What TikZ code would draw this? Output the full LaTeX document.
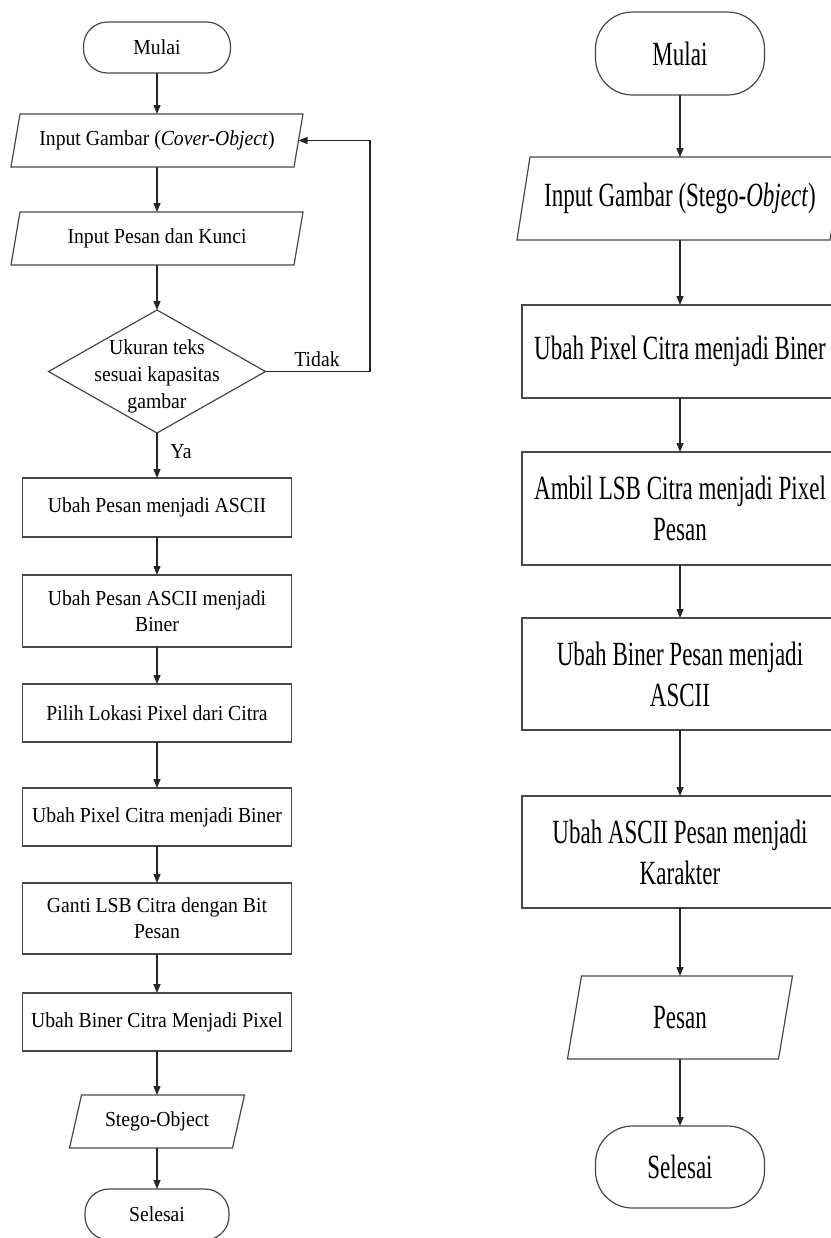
\documentclass[tikz,border=0pt]{standalone}
\usepackage{fontspec}
\setmainfont{Liberation Serif}
\newfontfamily\leftfont{Liberation Serif}[FakeStretch=0.92]
\newfontfamily\rightfont{Liberation Serif}[FakeStretch=0.68]
\usetikzlibrary{arrows.meta,shapes.geometric}
\tikzset{
  shapeline/.style={draw=black!72, line width=1.2bp},
  conn/.style={draw=black!85, line width=1.4bp, -{Triangle[length=9bp,width=7bp]}},
  lfont/.style={font=\leftfont\fontsize{21.5}{25.8}\selectfont},
  rfont/.style={font=\rightfont\fontsize{34}{41}\selectfont},
  lbox/.style={rectangle, shapeline, lfont, minimum width=269bp, inner sep=0pt, outer sep=0pt, align=center},
  rbox/.style={rectangle, shapeline, rfont, minimum width=316bp, inner sep=0pt, outer sep=0pt, align=center},
  lio/.style={rectangle, lfont, inner sep=0pt, outer sep=0pt, align=center},
  rio/.style={rectangle, rfont, inner sep=0pt, outer sep=0pt, align=center},
  lterm/.style={rectangle, shapeline, lfont, rounded corners=24bp, inner sep=0pt, outer sep=0pt},
  rterm/.style={rectangle, shapeline, rfont, rounded corners=37bp, inner sep=0pt, outer sep=0pt},
  lbl/.style={lfont, inner sep=0pt}
}
\newcommand\ioshape[2]{%
  \draw[shapeline] ([xshift=#2]#1.north west) -- ([xshift=#2]#1.north east)
    -- ([xshift=-#2]#1.south east) -- ([xshift=-#2]#1.south west) -- cycle;}
\begin{document}
\begin{tikzpicture}[x=1bp,y=-1bp]
\useasboundingbox (0,0) rectangle (831,1238);
\clip (0,0) rectangle (831,1238);
\fill[white] (0,0) rectangle (831,1238);
% ---------------- left chart ----------------
\node[lterm, minimum width=147bp, minimum height=51bp] (mulaiL) at (157,47.5) {Mulai};
\node[lio, minimum width=283bp, minimum height=53bp] (inL) at (157,140.5) {Input Gambar (\textit{Cover-Object})};
\ioshape{inL}{4.5bp}
\node[lio, minimum width=283bp, minimum height=53bp] (pesanL) at (157,238.5) {Input Pesan dan Kunci};
\ioshape{pesanL}{4.5bp}
\node[diamond, shapeline, minimum width=217bp, minimum height=123bp, inner sep=0pt, outer sep=0pt] (dec) at (157,371.5) {};
\node[align=center, font=\leftfont\fontsize{21.5}{27}\selectfont, inner sep=0pt] (dectext) at (157,376) {Ukuran teks\\sesuai kapasitas\\gambar};
\node[lbox, minimum height=59bp] (b1) at (157,507.5) {Ubah Pesan menjadi ASCII};
\node[lbox, minimum height=72bp] (b2) at (157,611) {Ubah Pesan ASCII menjadi\\Biner};
\node[lbox, minimum height=58bp] (b3) at (157,713) {Pilih Lokasi Pixel dari Citra};
\node[lbox, minimum height=58bp] (b4) at (157,817) {Ubah Pixel Citra menjadi Biner};
\node[lbox, minimum height=71bp] (b5) at (157,918.5) {Ganti LSB Citra dengan Bit\\Pesan};
\node[lbox, minimum height=58bp] (b6) at (157,1022) {Ubah Biner Citra Menjadi Pixel};
\node[lio, minimum width=163bp, minimum height=53bp] (stegoL) at (157,1121.5) {Stego-Object};
\ioshape{stegoL}{6bp}
\node[lterm, minimum width=144bp, minimum height=51bp] (selesaiL) at (157,1214.5) {Selesai};
\coordinate (fb) at (370,371.5);
\node[lbl] (tidak) at (317,359) {Tidak};
\node[lbl] (ya) at (181,452) {Ya};
\draw[conn] (mulaiL) -- (inL);
\draw[conn] (inL) -- (pesanL);
\draw[conn] (pesanL) -- (dec);
\draw[conn] (dec) -- (b1);
\draw[conn] (dec.east) -- (fb) |- (inL.east);
\draw[conn] (b1) -- (b2);
\draw[conn] (b2) -- (b3);
\draw[conn] (b3) -- (b4);
\draw[conn] (b4) -- (b5);
\draw[conn] (b5) -- (b6);
\draw[conn] (b6) -- (stegoL);
\draw[conn] (stegoL) -- (selesaiL);
% ---------------- right chart ----------------
\node[rterm, minimum width=169bp, minimum height=83bp] (mulaiR) at (680,53.5) {Mulai};
\node[rio, minimum width=313bp, minimum height=83bp] (inR) at (680,198.5) {Input Gambar (Stego-\textit{Object})};
\ioshape{inR}{6.5bp}
\node[rbox, minimum height=93bp] (r1) at (680,351.5) {Ubah Pixel Citra menjadi Biner};
\node[rbox, minimum height=113bp] (r2) at (680,508.5) {Ambil LSB Citra menjadi Pixel\\Pesan};
\node[rbox, minimum height=112bp] (r3) at (680,674) {Ubah Biner Pesan menjadi\\ASCII};
\node[rbox, minimum height=112bp] (r4) at (680,852) {Ubah ASCII Pesan menjadi\\Karakter};
\node[rio, minimum width=211bp, minimum height=83bp] (pesanR) at (680,1017.5) {Pesan};
\ioshape{pesanR}{7bp}
\node[rterm, minimum width=169bp, minimum height=82bp] (selesaiR) at (680,1167) {Selesai};
\draw[conn] (mulaiR) -- (inR);
\draw[conn] (inR) -- (r1);
\draw[conn] (r1) -- (r2);
\draw[conn] (r2) -- (r3);
\draw[conn] (r3) -- (r4);
\draw[conn] (r4) -- (pesanR);
\draw[conn] (pesanR) -- (selesaiR);
\end{tikzpicture}
\end{document}
